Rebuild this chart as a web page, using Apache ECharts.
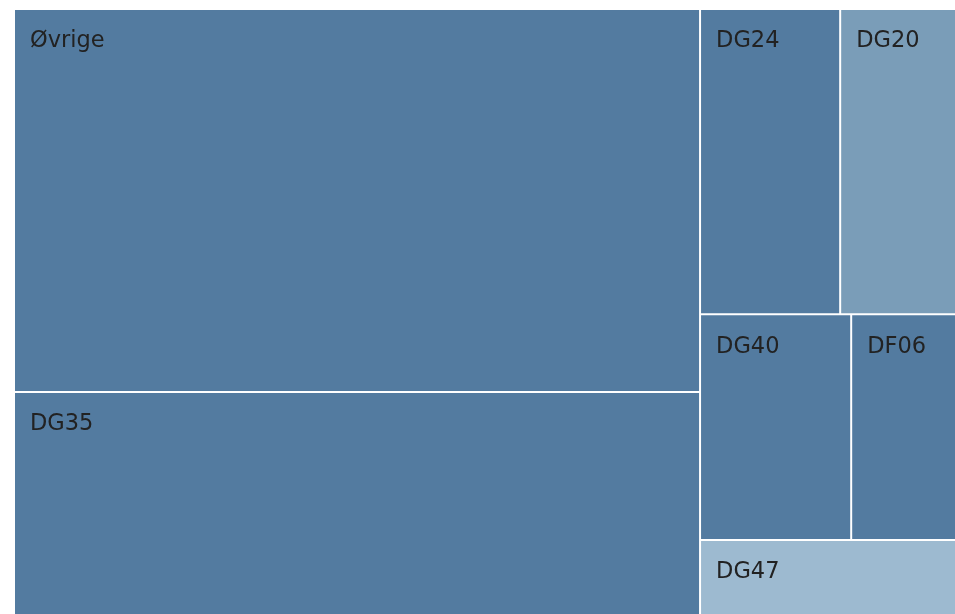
<!DOCTYPE html>
<html>
<head>
<meta charset="utf-8">
<script src="https://cdn.jsdelivr.net/npm/echarts@6/dist/echarts.min.js"></script>
<style>
  html, body { margin: 0; padding: 0; background: #fff; }
  #chart { width: 955px; height: 614px; }
</style>
</head>
<body>
<div id="chart"></div>
<script>
const names = ['Øvrige', 'DG35', 'DG24', 'DG20', 'DG40', 'DF06', 'DG47']
const values = [258700, 150600, 42100, 34800, 33600, 23300, 18900]
const tileColors = ['#537ba0', '#537ba0', '#537ba0', '#7a9db8', '#537ba0', '#537ba0', '#9dbad0']

const chart = echarts.init(document.getElementById('chart'))

const seriesData = names.map((n, i) => ({
    name: n,
    value: values[i],
    itemStyle: { color: tileColors[i] }
}))

chart.setOption({
    animation: false,
    series: [
        {
            type: 'treemap',
            left: 15,
            top: 10,
            right: 0,
            bottom: 0,
            roam: false,
            nodeClick: false,
            squareRatio: 2,
            breadcrumb: { show: false },
            levels: [
                { itemStyle: { borderWidth: 0, gapWidth: 2 } },
                { itemStyle: { borderWidth: 0, gapWidth: 0 } }
            ],
            label: {
                show: true,
                position: [10, 15],
                fontFamily: 'DejaVu Sans',
                fontSize: 22.5,
                color: '#222'
            },
            emphasis: { disabled: true },
            data: seriesData
        }
    ]
})
</script>
</body>
</html>
